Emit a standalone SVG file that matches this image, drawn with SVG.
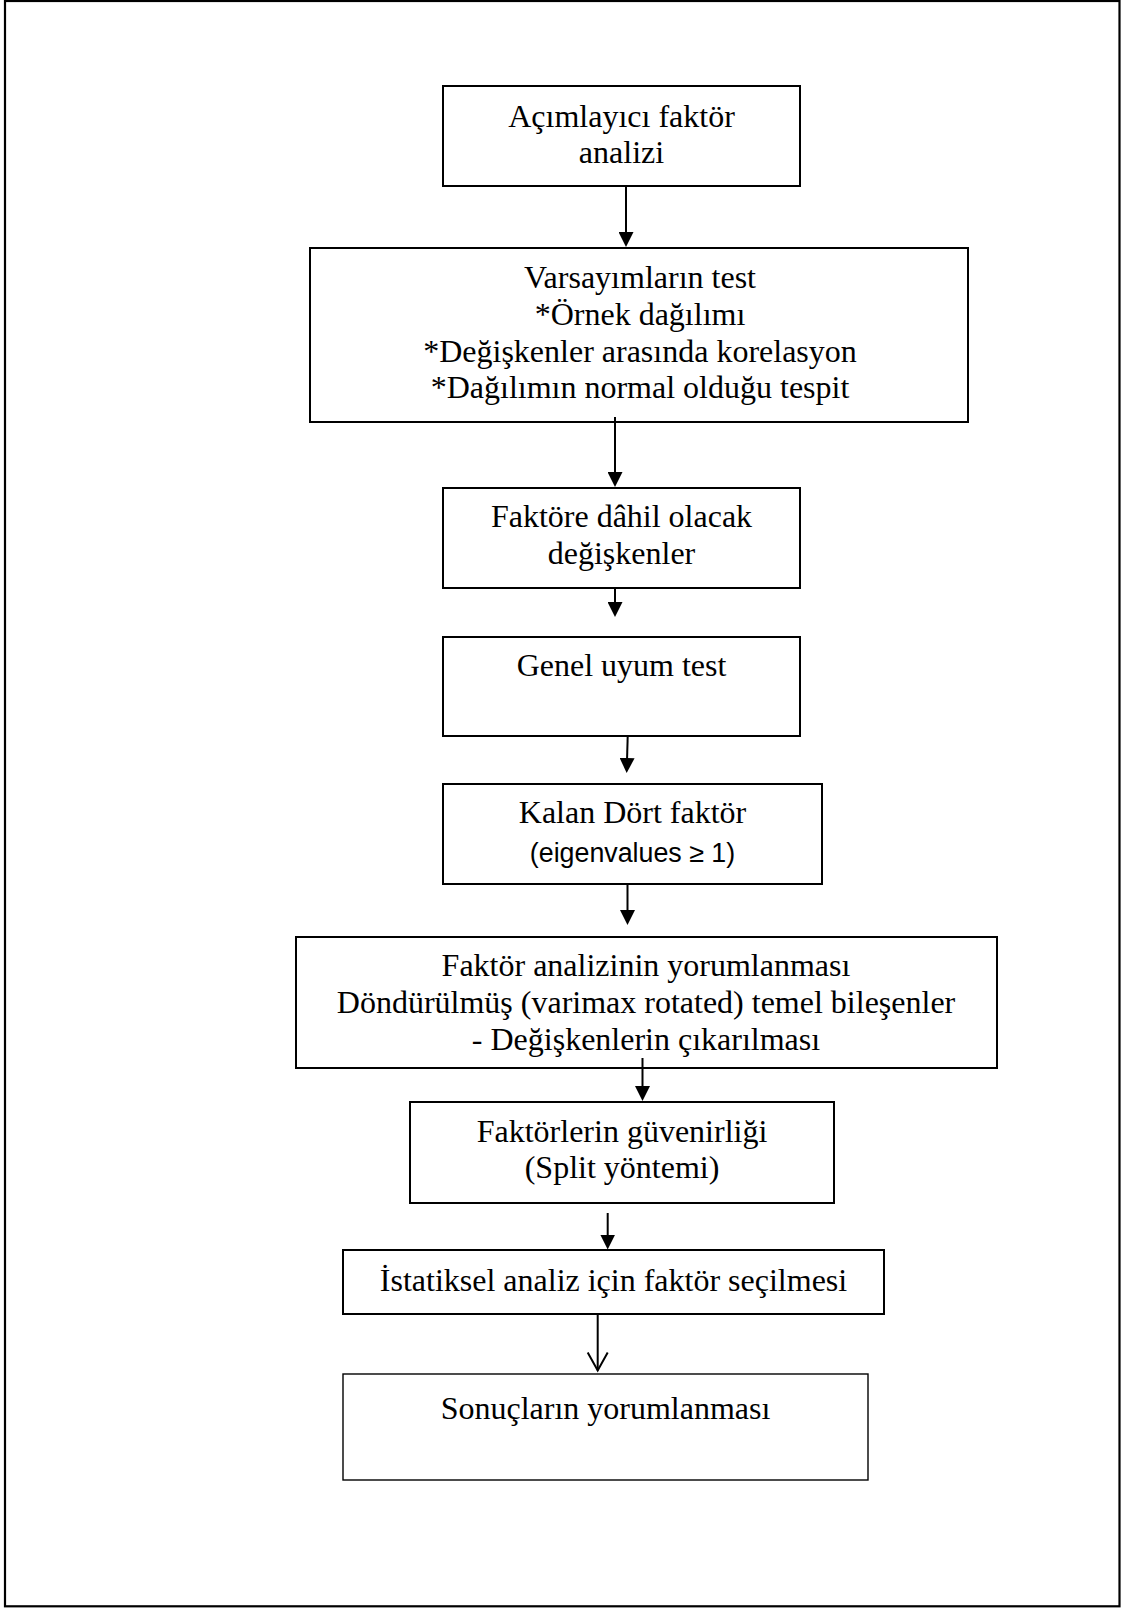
<svg xmlns="http://www.w3.org/2000/svg" width="1125" height="1608" viewBox="0 0 1125 1608">
<style>
.box{fill:#fff;stroke:#000;stroke-width:2}
.thin{stroke-width:1.4}
.t{font-family:"Liberation Serif","Times New Roman",serif;font-size:32px;fill:#000;text-anchor:middle}
.s{font-family:"Liberation Sans",Arial,sans-serif;font-size:26.8px;fill:#000;text-anchor:middle}
.c{stroke:#000;stroke-width:2;fill:none}
</style>
<defs>
<marker id="ah" viewBox="0 0 15 15" markerWidth="15" markerHeight="15" refX="7" refY="7.5" orient="auto" markerUnits="userSpaceOnUse"><path d="M0,0 L15,7.5 L0,15 z" fill="#000"/></marker>
<marker id="av" viewBox="-2 -12 22 24" markerWidth="22" markerHeight="24" refX="18" refY="0" orient="auto" markerUnits="userSpaceOnUse"><path d="M0,-10 L18,0 L0,10" fill="none" stroke="#000" stroke-width="2"/></marker>
</defs>
<rect x="0" y="0" width="1125" height="1608" fill="#fff"/>
<rect id="frame" x="5" y="1" width="1114.5" height="1605.3" fill="none" stroke="#000" stroke-width="2.2"/>
<g id="n1"><rect class="box" x="443" y="86" width="357" height="100"/><text class="t" x="621.5" y="126.7">Açımlayıcı faktör</text><text class="t" x="621.5" y="163.3">analizi</text></g>
<g id="n2"><rect class="box" x="310" y="248" width="658" height="174"/><text class="t" x="640" y="288.3">Varsayımların test</text><text class="t" x="640" y="325">*Örnek dağılımı</text><text class="t" x="640" y="361.7">*Değişkenler arasında korelasyon</text><text class="t" x="640" y="398.3">*Dağılımın normal olduğu tespit</text></g>
<g id="n3"><rect class="box" x="443" y="488" width="357" height="100"/><text class="t" x="621.5" y="527.3">Faktöre dâhil olacak</text><text class="t" x="621.5" y="564">değişkenler</text></g>
<g id="n4"><rect class="box" x="443" y="637" width="357" height="99"/><text class="t" x="621.5" y="676">Genel uyum test</text></g>
<g id="n5"><rect class="box" x="443" y="784" width="379" height="100"/><text class="t" x="632.5" y="823.3">Kalan Dört faktör</text><text class="s" x="632.5" y="861.7">(eigenvalues ≥ 1)</text></g>
<g id="n6"><rect class="box" x="296" y="937" width="701" height="131"/><text class="t" x="646" y="976">Faktör analizinin yorumlanması</text><text class="t" x="646" y="1013.3">Döndürülmüş (varimax rotated) temel bileşenler</text><text class="t" x="646" y="1050">- Değişkenlerin çıkarılması</text></g>
<g id="n7"><rect class="box" x="410" y="1102" width="424" height="101"/><text class="t" x="622" y="1141.7">Faktörlerin güvenirliği</text><text class="t" x="622" y="1178.3">(Split yöntemi)</text></g>
<g id="n8"><rect class="box" x="343" y="1250" width="541" height="64"/><text class="t" x="613.5" y="1291">İstatiksel analiz için faktör seçilmesi</text></g>
<g id="n9"><rect class="box thin" x="343" y="1374" width="525" height="106"/><text class="t" x="605.5" y="1419.3">Sonuçların yorumlanması</text></g>
<g id="connectors">
<line class="c" x1="626" y1="186" x2="626" y2="239" marker-end="url(#ah)"/>
<line class="c" x1="615" y1="417" x2="615" y2="479" marker-end="url(#ah)"/>
<line class="c" x1="615" y1="588" x2="615" y2="609" marker-end="url(#ah)"/>
<line class="c" x1="627.7" y1="736" x2="626.9" y2="765" marker-end="url(#ah)"/>
<line class="c" x1="627.5" y1="884" x2="627.5" y2="917" marker-end="url(#ah)"/>
<line class="c" x1="642.5" y1="1058" x2="642.5" y2="1093" marker-end="url(#ah)"/>
<line class="c" x1="607.7" y1="1213" x2="607.7" y2="1241.5" marker-end="url(#ah)"/>
<line class="c" x1="597.7" y1="1314" x2="597.7" y2="1370.5" marker-end="url(#av)"/>
</g>
</svg>
